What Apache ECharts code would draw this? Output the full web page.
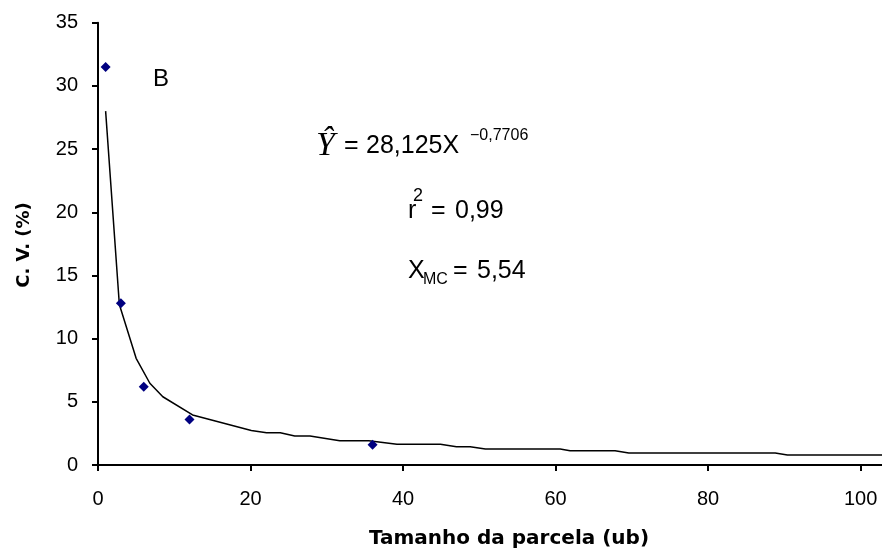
<!DOCTYPE html>
<html>
<head>
<meta charset="utf-8">
<script src="https://cdn.jsdelivr.net/npm/echarts@6/dist/echarts.min.js"></script>
<style>
html,body{margin:0;padding:0;background:#fff;}
#chart{width:882px;height:551px;}
</style>
</head>
<body>
<div id="chart"></div>
<script>
// Observed points
const pointX = [1, 3, 6, 12, 36];
const pointY = [31.5, 12.8, 6.2, 3.6, 1.6];
// Fitted curve as drawn
const curveX = [1, 2.8, 5, 6.8, 8.5, 12.4, 20.1, 22.1, 23.9, 25.8, 27.8, 31.7, 35.5, 39.2, 44.9, 47.0, 48.8, 50.8, 60.6, 61.9, 67.8, 69.6, 88.8, 90.4, 102.8];
const curveY = [28.0, 12.7, 8.44, 6.47, 5.40, 3.96, 2.73, 2.56, 2.56, 2.29, 2.29, 1.92, 1.92, 1.64, 1.64, 1.45, 1.45, 1.27, 1.27, 1.13, 1.13, 0.95, 0.95, 0.79, 0.79];
// Tick labels
const xTicks = [0, 20, 40, 60, 80, 100];
const yTicks = [0, 5, 10, 15, 20, 25, 30, 35];

const xTitle = 'Tamanho da parcela (ub)';
const yTitle = 'C. V. (%)';

const chart = echarts.init(document.getElementById('chart'), null, {renderer: 'canvas'});

const lab = {fontFamily: '"Liberation Sans", Arial, sans-serif', fontSize: 20, color: '#000'};
const F = '25px "Liberation Sans", Arial, sans-serif';
const FS = '16px "Liberation Sans", Arial, sans-serif';

const option = {
  animation: false,
  backgroundColor: '#fff',
  grid: {left: 98, right: 0, top: 22.7, bottom: 86, containLabel: false},
  xAxis: {
    type: 'value', min: 0, max: 102.8,
    splitLine: {show: false},
    axisLine: {show: true, onZero: false, lineStyle: {color: '#000', width: 2}},
    axisTick: {show: true, length: 6, lineStyle: {color: '#000', width: 2}, customValues: xTicks},
    axisLabel: Object.assign({margin: 24, customValues: xTicks}, lab)
  },
  yAxis: {
    type: 'value', min: 0, max: 35, interval: 5,
    splitLine: {show: false},
    axisLine: {show: true, onZero: false, lineStyle: {color: '#000', width: 2}},
    axisTick: {show: true, length: 6, lineStyle: {color: '#000', width: 2}, customValues: yTicks},
    axisLabel: Object.assign({margin: 20, customValues: yTicks}, lab)
  },
  series: [
    {
      type: 'line',
      data: curveX.map((x, i) => [x, curveY[i]]),
      symbol: 'none',
      lineStyle: {color: '#000', width: 1.5},
      z: 2
    },
    {
      type: 'scatter',
      data: pointX.map((x, i) => [x, pointY[i]]),
      symbol: 'diamond',
      symbolSize: 10,
      itemStyle: {color: '#000080', opacity: 1},
      z: 3
    }
  ],
  graphic: [
    {type: 'text', left: 153, top: 67, style: {text: 'B', font: '24px "Liberation Sans", Arial', fill: '#000'}},
    {type: 'text', left: 316, top: 129, style: {text: 'Ŷ', font: 'italic 34px "Liberation Serif", "Times New Roman", serif', fill: '#000'}},
    {type: 'text', left: 344, top: 134, style: {text: '=', font: F, fill: '#000'}},
    {type: 'text', left: 366, top: 134, style: {text: '28,125X', font: F, fill: '#000'}},
    {type: 'text', left: 470, top: 128, style: {text: '−0,7706', font: FS, fill: '#000'}},
    {type: 'text', left: 408, top: 199, style: {text: 'r', font: F, fill: '#000'}},
    {type: 'text', left: 413, top: 187, style: {text: '2', font: '18px "Liberation Sans", Arial', fill: '#000'}},
    {type: 'text', left: 431, top: 199, style: {text: '=', font: F, fill: '#000'}},
    {type: 'text', left: 455, top: 199, style: {text: '0,99', font: F, fill: '#000'}},
    {type: 'text', left: 408, top: 259, style: {text: 'X', font: F, fill: '#000'}},
    {type: 'text', left: 423, top: 272, style: {text: 'MC', font: FS, fill: '#000'}},
    {type: 'text', left: 453, top: 259, style: {text: '=', font: F, fill: '#000'}},
    {type: 'text', left: 477, top: 259, style: {text: '5,54', font: F, fill: '#000'}},
    {type: 'text', x: 509, y: 539, style: {text: xTitle, font: 'bold 20px "DejaVu Sans", sans-serif', fill: '#000', align: 'center', verticalAlign: 'middle'}},
    {type: 'text', x: 24, y: 245, rotation: Math.PI / 2, style: {text: yTitle, font: 'bold 18px "DejaVu Sans", sans-serif', fill: '#000', align: 'center', verticalAlign: 'middle'}}
  ]
};
chart.setOption(option);
</script>
</body>
</html>
